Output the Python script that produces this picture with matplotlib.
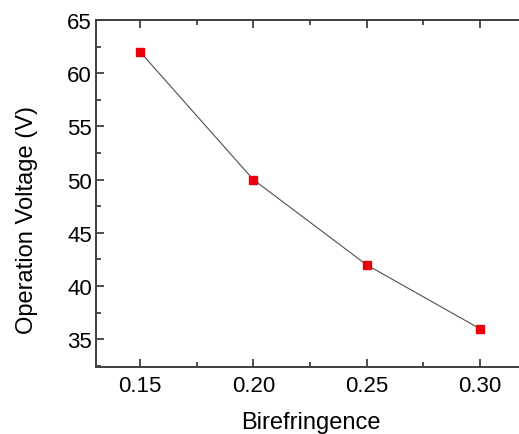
import matplotlib
matplotlib.use("Agg")
import matplotlib.pyplot as plt
from matplotlib.ticker import MultipleLocator

# data
birefringence = [0.15, 0.20, 0.25, 0.30]
voltage = [62, 50, 42, 36]
xtick_labels = ['0.15', '0.20', '0.25', '0.30']

plt.rcParams['font.family'] = ['Liberation Sans', 'DejaVu Sans']

fig = plt.figure(figsize=(5.19, 4.35), dpi=100)
ax = fig.add_axes([96/519, 1-368/435, (524-96)/519, (368-21)/435])

ax.plot(birefringence, voltage, color='#505050', lw=0.8, zorder=2)
ax.plot(birefringence, voltage, 's', color='#e8000b', ms=5.5, mec='#e8000b', zorder=3, ls='none')

ax.set_xlim(0.1305, 0.3195)
ax.set_ylim(32.4, 65)
ax.xaxis.set_minor_locator(MultipleLocator(0.025))
ax.yaxis.set_major_locator(MultipleLocator(5))
ax.yaxis.set_minor_locator(MultipleLocator(2.5))
ax.set_xticks(birefringence)
ax.set_xticklabels(xtick_labels)

for s in ax.spines.values():
    s.set_color('#404040')
    s.set_linewidth(1.4)
ax.spines['right'].set_visible(False)

ax.tick_params(which='both', direction='in', top=True, right=False, color='#303030', width=1.2)
ax.tick_params(which='major', length=6, labelsize=16)
ax.tick_params(axis='x', which='major', pad=6)
ax.tick_params(axis='y', which='major', pad=3)
ax.tick_params(which='minor', length=3.5)

ax.set_xlabel('Birefringence', fontsize=17)
ax.set_ylabel('Operation Voltage (V)', fontsize=17)
ax.xaxis.set_label_coords(0.502, -0.128)
ax.yaxis.set_label_coords(-0.136, 0.427)

fig.savefig('out.png', dpi=100)
